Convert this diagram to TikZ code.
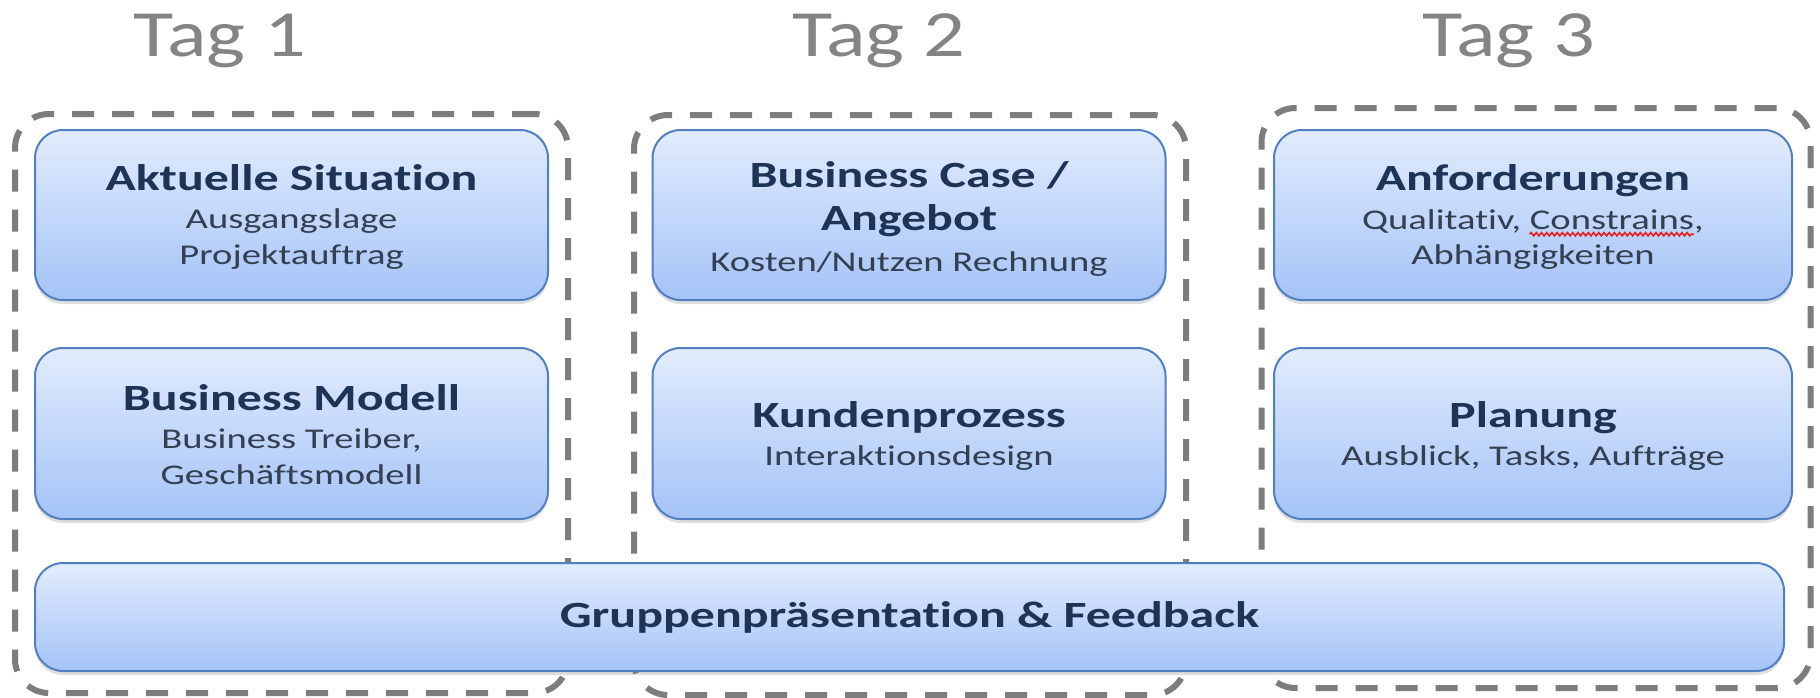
\documentclass[tikz,border=0pt]{standalone}
\usepackage{fontspec}
\setmainfont{Carlito}[Ligatures=NoCommon]
\usepackage{graphicx}
\usetikzlibrary{shadows,decorations.pathmorphing}

\definecolor{boxtop}{RGB}{226,236,253}
\definecolor{boxbot}{RGB}{164,195,247}
\definecolor{boxline}{RGB}{80,128,192}
\definecolor{titletext}{RGB}{30,52,86}
\definecolor{subtext}{RGB}{52,64,82}
\definecolor{daygray}{RGB}{132,132,132}
\definecolor{framegray}{RGB}{125,125,125}
\definecolor{spellred}{RGB}{230,30,30}

% box texts are set in a horizontally widened face
\newcommand\widetext[1]{\scalebox{1.35}[1]{#1}}
\newcommand\widetag[1]{\scalebox{1.25}[1]{#1}}

\newlength\lead
\newlength\wordw

\tikzset{
  daybox/.style={draw=framegray, line width=3pt, dash pattern=on 11pt off 9pt,
    rounded corners=17pt, inner sep=0pt},
  card/.style={draw=boxline, line width=1pt, rounded corners=14pt,
    top color=boxtop, bottom color=boxbot, inner sep=0pt,
    drop shadow={shadow xshift=0pt, shadow yshift=-2pt, opacity=0.25}},
  ttl/.style={anchor=base, inner sep=0pt, font=\fontsize{18.5}{18.5}\selectfont\bfseries, text=titletext},
  sub/.style={anchor=base, inner sep=0pt, font=\fontsize{14.3}{14.3}\selectfont, text=subtext},
  day/.style={anchor=base, inner sep=0pt, font=\fontsize{33}{33}\selectfont, text=daygray},
  spell/.style={draw=spellred, line width=0.8pt, decorate,
    decoration={snake, amplitude=0.8pt, segment length=2.6pt}},
}

\begin{document}
% widths used to place the spell-check wave under "Constrains"
\settowidth{\lead}{\fontsize{14.3}{14.3}\selectfont\widetext{Qualitativ, }}
\settowidth{\wordw}{\fontsize{14.3}{14.3}\selectfont\widetext{Constrains}}
\begin{tikzpicture}[x=0.5pt, y=-0.5pt]
  \fill[white] (0,0) rectangle (1820,697);
  \useasboundingbox (0,0) rectangle (1820,697);

  % day headings
  \node[day] (tag1) at (220,56) {\widetag{Tag 1}};
  \node[day] (tag2) at (879,56) {\widetag{Tag 2}};
  \node[day] (tag3) at (1509,56) {\widetag{Tag 3}};

  % dashed day frames
  \node[daybox, minimum width=276.5pt, minimum height=289.5pt] (frame1) at (291.5,403.5) {};
  \node[daybox, minimum width=276pt, minimum height=290pt] (frame2) at (910,405) {};
  \node[daybox, minimum width=274.5pt, minimum height=290pt] (frame3) at (1536,398) {};

  % day 1
  \node[card, minimum width=256.5pt, minimum height=85pt] (sit) at (291.5,215) {};
  \node[ttl] (sitT) at (291.5,190) {\widetext{Aktuelle Situation}};
  \node[sub] (sitA) at (291.5,228) {\widetext{Ausgangslage}};
  \node[sub] (sitB) at (291.5,264) {\widetext{Projektauftrag}};

  \node[card, minimum width=256.5pt, minimum height=85.5pt] (mod) at (291.5,433.5) {};
  \node[ttl] (modT) at (291.5,410) {\widetext{Business Modell}};
  \node[sub] (modA) at (291.5,448) {\widetext{Business Treiber,}};
  \node[sub] (modB) at (291.5,484) {\widetext{Geschäftsmodell}};

  % day 2
  \node[card, minimum width=256.5pt, minimum height=85pt] (case) at (909,215) {};
  \node[ttl] (caseT) at (909,187) {\widetext{Business Case /}};
  \node[ttl] (caseU) at (909,230) {\widetext{Angebot}};
  \node[sub] (caseA) at (909,271) {\widetext{Kosten/Nutzen Rechnung}};

  \node[card, minimum width=256.5pt, minimum height=85.5pt] (kun) at (909,433.5) {};
  \node[ttl] (kunT) at (909,427) {\widetext{Kundenprozess}};
  \node[sub] (kunA) at (909,465) {\widetext{Interaktionsdesign}};

  % day 3
  \node[card, minimum width=259pt, minimum height=85pt] (anf) at (1533,215) {};
  \node[ttl] (anfT) at (1533,190) {\widetext{Anforderungen}};
  \node[sub] (anfA) at (1533,229) {\widetext{Qualitativ, Constrains,}};
  \node[sub] (anfB) at (1533,264) {\widetext{Abhängigkeiten}};
  \coordinate (waveL) at ([xshift=\lead, yshift=-2.6pt]anfA.base west);
  \coordinate (waveR) at ([xshift=\wordw]waveL);
  \draw[spell] (waveL) -- (waveR);

  \node[card, minimum width=259pt, minimum height=85.5pt] (plan) at (1533,433.5) {};
  \node[ttl] (planT) at (1533,427) {\widetext{Planung}};
  \node[sub] (planA) at (1533,465) {\widetext{Ausblick, Tasks, Aufträge}};

  % shared bar across all days
  \node[card, minimum width=874.5pt, minimum height=54pt] (grp) at (909.5,617) {};
  \node[ttl] (grpT) at (909.5,627) {\widetext{Gruppenpräsentation \& Feedback}};
\end{tikzpicture}
\end{document}
